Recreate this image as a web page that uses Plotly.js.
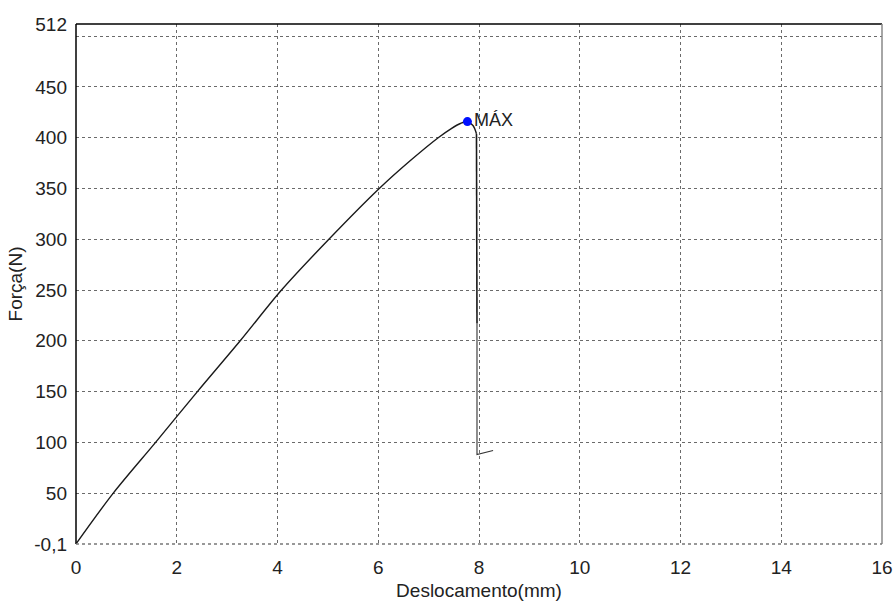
<!DOCTYPE html>
<html>
<head>
<meta charset="utf-8">
<script src="https://cdn.plot.ly/plotly-3.0.1.min.js"></script>
<style>html,body{margin:0;padding:0;background:#fff}#chart{width:893px;height:606px}</style>
</head>
<body>
<div id="chart"></div>
<script>
// Displacement (mm) and force (N)
const deslocamento = [0, 0.74, 1.58, 2.41, 3.26, 4.08, 5.02, 6.02, 6.65, 7.19, 7.45, 7.63, 7.77, 7.88, 7.95];
const forca        = [0, 50, 100, 150, 200, 250, 300, 350, 378, 400, 409, 414, 415.9, 412, 404];
// vertical drop (bold upper part, thin lower part) and small tail
const dropX = [7.95, 7.96];
const dropY = [404, 217];
const tailX = [7.96, 7.96, 8.28];
const tailY = [217, 88, 92];
// maximum point
const maxX = [7.77];
const maxY = [415.9];
const maxLabel = ['MÁX'];

const xTicks = [0, 2, 4, 6, 8, 10, 12, 14, 16];
const yTicks = [-0.1, 50, 100, 150, 200, 250, 300, 350, 400, 450, 500, 512];
const yTickText = ['-0,1', '50', '100', '150', '200', '250', '300', '350', '400', '450', '', '512'];

const font = "Liberation Sans, Arial, sans-serif";

const traces = [
  {x: deslocamento, y: forca, mode: 'lines', line: {color: '#1a1a1a', width: 1.4, shape: 'spline', smoothing: 0.9}, hoverinfo: 'skip'},
  {x: dropX, y: dropY, mode: 'lines', line: {color: '#1a1a1a', width: 1.6}, hoverinfo: 'skip'},
  {x: tailX, y: tailY, mode: 'lines', line: {color: '#333', width: 1.1}, hoverinfo: 'skip'},
  {x: maxX, y: maxY, mode: 'markers+text', marker: {color: '#0010ff', size: 9},
   text: maxLabel, textposition: 'middle right', textfont: {family: font, size: 18, color: '#222'}}
];

const layout = {
  width: 893, height: 606,
  margin: {l: 76, r: 11, t: 24, b: 62},
  paper_bgcolor: '#fff', plot_bgcolor: '#fff',
  showlegend: false,
  font: {family: font, color: '#222'},
  xaxis: {
    range: [0, 16], tickvals: xTicks, ticktext: xTicks.map(String),
    showgrid: true, gridcolor: '#6a6a6a', griddash: 'dot', gridwidth: 1,
    zeroline: false, showline: false, ticks: '', ticklabelstandoff: 10,
    tickfont: {family: font, size: 19, color: '#222'},
    title: {text: 'Deslocamento(mm)', font: {family: font, size: 19, color: '#222'}, standoff: 6}
  },
  yaxis: {
    range: [-0.1, 512], tickvals: yTicks, ticktext: yTickText,
    showgrid: true, gridcolor: '#6a6a6a', griddash: 'dot', gridwidth: 1,
    zeroline: false, showline: false, ticks: '', ticklabelstandoff: 8,
    tickfont: {family: font, size: 19, color: '#222'},
    title: {text: 'Força(N)', font: {family: font, size: 19, color: '#222'}, standoff: 6}
  },
  shapes: [
    {type: 'line', xref: 'paper', yref: 'paper', x0: 0, x1: 1, y0: 1, y1: 1, line: {color: '#000', width: 1.5}},
    {type: 'line', xref: 'paper', yref: 'paper', x0: 0, x1: 0, y0: 0, y1: 1, line: {color: '#000', width: 1.5}},
    {type: 'line', xref: 'paper', yref: 'paper', x0: 1, x1: 1, y0: 0, y1: 1, line: {color: '#888', width: 1.5}},
    {type: 'line', xref: 'paper', yref: 'paper', x0: 0, x1: 1, y0: 0, y1: 0, line: {color: '#777', width: 1.5, dash: 'dot'}}
  ]
};

Plotly.newPlot('chart', traces, layout, {displayModeBar: false, staticPlot: true});
</script>
</body>
</html>
